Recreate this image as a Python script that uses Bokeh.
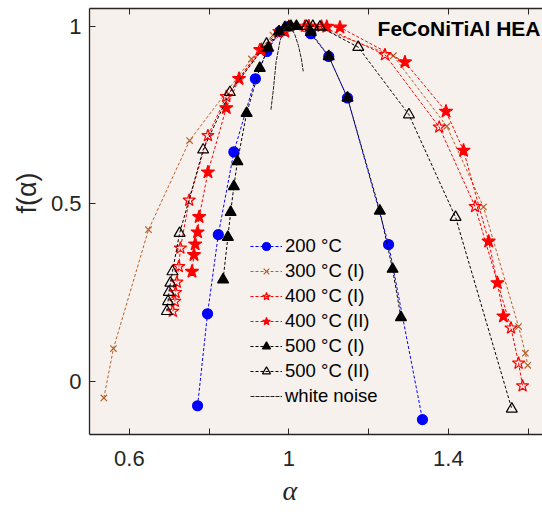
from bokeh.plotting import figure
from bokeh.models import (Range1d, LinearAxis, FixedTicker, Legend, LegendItem, Label, Title)
from bokeh.embed import file_html
from bokeh.resources import INLINE

# ---------------- data ----------------
a200 = [0.771, 0.796, 0.823, 0.862, 0.916, 0.945, 0.977, 1.000, 1.055, 1.100, 1.147, 1.250, 1.335]
f200 = [-0.069, 0.190, 0.413, 0.646, 0.852, 0.929, 0.985, 1.000, 0.979, 0.915, 0.798, 0.385, -0.108]

a300 = [0.536, 0.560, 0.648, 0.751, 0.906, 0.960, 1.000, 1.070, 1.262, 1.396, 1.488, 1.576, 1.593, 1.599]
f300 = [-0.047, 0.092, 0.427, 0.678, 0.908, 0.975, 1.000, 0.997, 0.917, 0.718, 0.491, 0.154, 0.079, 0.045]

a400i = [0.709, 0.714, 0.716, 0.719, 0.724, 0.728, 0.750, 0.797, 0.843, 0.927, 0.975, 1.000, 1.040,
         1.082, 1.241, 1.377, 1.467, 1.557, 1.576, 1.586]
f400i = [0.197, 0.225, 0.250, 0.279, 0.323, 0.375, 0.510, 0.692, 0.802, 0.934, 0.985, 1.000, 1.000,
         1.000, 0.920, 0.716, 0.492, 0.150, 0.051, -0.013]

a400ii = [0.757, 0.762, 0.765, 0.771, 0.775, 0.797, 0.843, 0.875, 0.931, 0.990, 1.050, 1.095, 1.128,
          1.291, 1.394, 1.438, 1.501, 1.523, 1.538]
f400ii = [0.309, 0.356, 0.386, 0.420, 0.463, 0.589, 0.770, 0.852, 0.934, 0.985, 1.000, 0.999, 0.997,
          0.899, 0.760, 0.650, 0.394, 0.277, 0.183]

a500i = [0.835, 0.847, 0.854, 0.862, 0.871, 0.894, 0.927, 0.948, 0.975, 0.990, 1.005, 1.019, 1.055,
         1.100, 1.147, 1.228, 1.260, 1.281]
f500i = [0.286, 0.406, 0.476, 0.549, 0.619, 0.755, 0.882, 0.939, 0.985, 0.997, 1.000, 1.000, 0.983,
         0.915, 0.798, 0.480, 0.316, 0.180]

a500ii = [0.694, 0.697, 0.699, 0.703, 0.708, 0.726, 0.785, 0.852, 0.944, 1.000, 1.044, 1.060, 1.078,
          1.174, 1.301, 1.418, 1.559]
f500ii = [0.197, 0.225, 0.251, 0.277, 0.309, 0.417, 0.652, 0.814, 0.950, 0.998, 1.000, 1.000, 0.998,
          0.941, 0.751, 0.462, -0.078]

awn = [0.955, 0.961, 0.968, 0.978, 0.990, 1.002, 1.015, 1.024, 1.031, 1.036]
fwn = [0.765, 0.821, 0.900, 0.960, 0.995, 1.005, 0.976, 0.945, 0.910, 0.873]

labels = ["200 °C", "300 °C (I)", "400 °C (I)", "400 °C (II)", "500 °C (I)", "500 °C (II)", "white noise"]
x_ticks = [0.6, 1.0, 1.4]
x_minor = [0.8, 1.2, 1.6]
y_ticks = [0, 0.5, 1]
title_text = "FeCoNiTiAl HEA"
xlabel_text = "α"
ylabel_text = "f(α)"

FONT = "Liberation Sans"
AX = "#262626"

p = figure(width=542, height=512, x_range=Range1d(0.5, 1.636), y_range=Range1d(-0.15, 1.05),
           output_backend="svg", toolbar_location=None,
           min_border_left=89, min_border_right=0, min_border_top=8, min_border_bottom=78,
           background_fill_color="#f7f1ed", border_fill_color="white", outline_line_color=None,
           x_axis_location=None, y_axis_location=None)
p.grid.visible = False

# axes
xb = LinearAxis(ticker=FixedTicker(ticks=x_ticks, minor_ticks=x_minor))
xb.major_label_overrides = {1.0: "1"}
xt = LinearAxis(ticker=FixedTicker(ticks=x_ticks, minor_ticks=x_minor))
xt.major_label_overrides = {0.6: "", 1.0: "", 1.4: ""}
yl = LinearAxis(ticker=FixedTicker(ticks=y_ticks, minor_ticks=[]))
yl.major_label_overrides = {0: "0", 1: "1"}
for ax in (xb, xt, yl):
    ax.axis_line_color = AX
    ax.axis_line_width = 1.3
    ax.major_tick_line_color = AX
    ax.minor_tick_line_color = AX
    ax.major_tick_in = 6
    ax.major_tick_out = 0
    ax.minor_tick_in = 6
    ax.minor_tick_out = 0
    ax.major_label_text_font = FONT
    ax.major_label_text_font_size = "22px"
    ax.major_label_text_color = AX
xt.major_label_text_font_size = "0px"
xt.major_label_standoff = 0
xb.major_label_standoff = 16
yl.major_label_standoff = 8
p.add_layout(xb, "below")
p.add_layout(xt, "above")
p.add_layout(yl, "left")

# axis titles
p.add_layout(Title(text=xlabel_text, align="left", offset=193, standoff=8, vertical_align="bottom",
                   text_font="Liberation Serif", text_font_style="italic", text_font_size="28px",
                   text_color=AX), "below")
p.add_layout(Title(text=ylabel_text, align="right", offset=164, standoff=12,
                   text_font=FONT, text_font_style="normal", text_font_size="27px",
                   text_color=AX), "left")

BROWN = "#b8602a"
series = [
    (a200, f200, "blue", "circle", "blue", 10),
    (a300, f300, BROWN, "x", None, 9),
    (a400i, f400i, "red", "star", None, 13),
    (a400ii, f400ii, "red", "star", "red", 14),
    (a500i, f500i, "black", "triangle", "black", 11),
    (a500ii, f500ii, "black", "triangle", None, 11),
]
items = []
for (xs, ys, col, mk, fill, sz), lab in zip(series, labels):
    ln = p.line(xs, ys, line_color=col, line_width=1, line_dash="3 2")
    sc = p.scatter(xs, ys, marker=mk, size=sz, line_color=col, fill_color=fill, line_width=1.2)
    items.append(LegendItem(label=lab, renderers=[ln, sc]))
wn = p.line(awn, fwn, line_color="#222222", line_width=1, line_dash="4 1")
items.append(LegendItem(label=labels[-1], renderers=[wn]))

leg = Legend(items=items, location=(161, 27), padding=0, margin=0, border_line_color=None,
             background_fill_alpha=0, label_text_font=FONT, label_text_font_size="18.5px",
             label_text_color="black", glyph_width=32, glyph_height=20, label_height=20,
             label_standoff=3, spacing=3)
p.add_layout(leg)

p.add_layout(Label(x=1.631, y=0.993, text=title_text, text_align="right", text_baseline="middle",
                   text_font=FONT, text_font_style="bold", text_font_size="21px", text_color="black"))

open("out.html", "w").write(file_html(p, INLINE))
